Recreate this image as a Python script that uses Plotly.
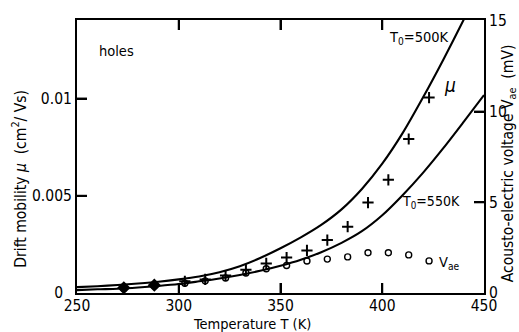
import plotly.graph_objects as go

# Measured hole drift mobility (crosses) and acousto-electric voltage (circles)
temp_meas = [273, 288, 303, 313, 323, 333, 343, 353, 363, 373, 383, 393, 403, 413, 423]
mu_meas = [0.00027, 0.00040, 0.00060, 0.00070, 0.00090, 0.00119, 0.00152, 0.00182,
           0.00219, 0.00272, 0.00341, 0.00465, 0.00582, 0.00792, 0.01005]
v_ae = [0.25, 0.40, 0.54, 0.67, 0.83, 1.10, 1.34, 1.52, 1.76, 1.87, 1.99, 2.22, 2.22, 2.10, 1.77]

# Calculated mobility curves for two values of T0
temp_calc = [250, 260, 270, 280, 290, 300, 310, 320, 330, 340, 350,
             360, 370, 380, 390, 400, 410, 420, 430, 440, 450]
mu_500 = [0.00030, 0.00035, 0.00041, 0.00049, 0.00058, 0.00070, 0.00085, 0.00107,
          0.00138, 0.00180, 0.00230, 0.00286, 0.00350, 0.00430, 0.00535, 0.00665,
          0.00822, 0.01005, 0.01200, 0.01405, 0.01610]
mu_550 = [0.00015, 0.00019, 0.00022, 0.00028, 0.00036, 0.00046, 0.00060, 0.00075,
          0.00093, 0.00114, 0.00140, 0.00171, 0.00210, 0.00258, 0.00318, 0.00400,
          0.00503, 0.00618, 0.00745, 0.00880, 0.01018]

x_ticks = [250, 300, 350, 400, 450]
mu_ticks = [0, 0.005, 0.01]
mu_tick_text = ["0\u00a0\u00a0", "0.005", "0.01"]
v_ticks = [0, 5, 10, 15]

FONT = "DejaVu Sans Condensed, Liberation Sans Narrow, Arial Narrow, sans-serif"
INK = "#000000"
TICK_LEN = 10

fig = go.Figure()

for mu_curve in (mu_500, mu_550):
    fig.add_trace(go.Scatter(
        x=temp_calc, y=mu_curve, mode="lines",
        line=dict(color=INK, width=2.1, shape="spline", smoothing=0.8),
        hoverinfo="skip",
    ))

# Acousto-electric voltage on the right-hand axis
fig.add_trace(go.Scatter(
    x=temp_meas, y=v_ae, mode="markers", yaxis="y2",
    marker=dict(symbol="circle-open", size=6, color=INK, line=dict(width=1.4, color=INK)),
))

# Drift mobility points; the two lowest points overlap the voltage points
symbols = ["diamond", "diamond"] + ["cross-thin"] * (len(temp_meas) - 2)
fig.add_trace(go.Scatter(
    x=temp_meas, y=mu_meas, mode="markers",
    marker=dict(symbol=symbols, size=8, color=INK, line=dict(width=2, color=INK)),
))

# Inward tick marks on all four sides, placed at the tick values
tick_line = dict(color=INK, width=2)
for t in x_ticks[1:-1]:
    for edge, sign in ((0, 1), (1, -1)):
        fig.add_shape(type="line", xref="x", yref="paper", x0=t, x1=t,
                      ysizemode="pixel", yanchor=edge, y0=0, y1=sign * TICK_LEN,
                      line=tick_line)
for m in mu_ticks[1:]:
    fig.add_shape(type="line", xref="paper", yref="y", y0=m, y1=m,
                  xsizemode="pixel", xanchor=0, x0=0, x1=TICK_LEN, line=tick_line)
for v in v_ticks[1:-1]:
    fig.add_shape(type="line", xref="paper", yref="y2", y0=v, y1=v,
                  xsizemode="pixel", xanchor=1, x0=0, x1=-TICK_LEN, line=tick_line)

annot_font = dict(family=FONT, size=14.5, color=INK)
fig.add_annotation(x=259.8, y=0.01244, text="holes", showarrow=False,
                   xanchor="left", font=annot_font)
fig.add_annotation(x=402.3, y=0.01309, text="T<sub>0</sub>=500K", showarrow=False,
                   xanchor="left", font=annot_font)
fig.add_annotation(x=429.5, y=0.0107, text="<i>μ</i>", showarrow=False,
                   xanchor="left", font=dict(family=FONT, size=19, color=INK))
fig.add_annotation(x=408.7, y=0.00466, text="T<sub>0</sub>=550K", showarrow=False,
                   xanchor="left", font=dict(family=FONT, size=14, color=INK))
fig.add_annotation(x=426.9, y=1.67, yref="y2", text="V<sub>ae</sub>", showarrow=False,
                   xanchor="left", font=annot_font)

# Axis titles
fig.add_annotation(x=336, y=-0.114, yref="paper", yanchor="middle", text="Temperature T (K)",
                   showarrow=False, font=annot_font)
fig.add_annotation(x=0, xref="paper", xanchor="center", xshift=-57, y=0.00588,
                   text="Drift mobility <i>μ</i>  (cm<sup>2</sup>/ Vs)", textangle=-90,
                   showarrow=False, font=dict(family=FONT, size=15.5, color=INK))
fig.add_annotation(x=1, xref="paper", xanchor="center", xshift=25, y=7.15, yref="y2",
                   text="Acousto-electric voltage V<sub>ae</sub>  (mV)", textangle=-90,
                   showarrow=False, font=dict(family=FONT, size=15.5, color=INK))

axis_common = dict(
    showline=True, linecolor=INK, linewidth=2, ticks="inside", ticklen=TICK_LEN,
    tickcolor=INK, tickwidth=2, showgrid=False, zeroline=False,
    tickfont=dict(family=FONT, size=15.5, color=INK),
)

fig.update_layout(
    width=519, height=332,
    margin=dict(l=77, r=35, t=13, b=39),
    paper_bgcolor="white", plot_bgcolor="white",
    showlegend=False,
    xaxis=dict(range=[250, 450], tickvals=x_ticks, mirror="ticks",
               ticklabelstandoff=-3, **axis_common),
    yaxis=dict(range=[0, 0.01404], tickvals=mu_ticks, ticktext=mu_tick_text,
               **axis_common),
    yaxis2=dict(range=[0, 15.05], tickvals=v_ticks, overlaying="y", side="right",
                **axis_common),
)

fig.write_html("out.html")
